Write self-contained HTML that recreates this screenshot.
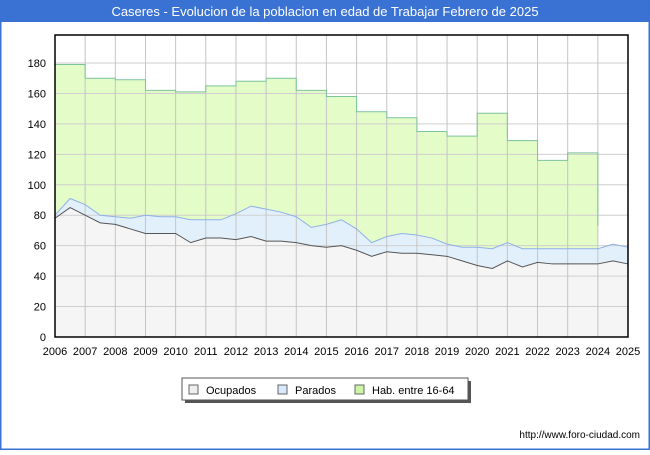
<!DOCTYPE html>
<html><head><meta charset="utf-8"><style>
body{margin:0;width:650px;height:450px;overflow:hidden;background:#fff;font-family:"Liberation Sans","DejaVu Sans",sans-serif}
</style></head><body>
<svg width="650" height="450" xmlns="http://www.w3.org/2000/svg">
<rect x="0" y="0" width="650" height="450" fill="#fff" stroke="#3a72d4" stroke-width="3"/>
<rect x="0" y="0" width="650" height="22" fill="#3a72d4"/>
<text x="325" y="16" fill="#fff" font-size="13" text-anchor="middle">Caseres - Evolucion de la poblacion en edad de Trabajar Febrero de 2025</text>
<g id="marks"></g>
<g id="grid"></g>
<g id="lines"></g>
<rect x="55" y="35" width="573" height="302" fill="none" stroke="#000" stroke-width="1.5"/>
<g id="axes"></g>
<g>
<rect x="185" y="381" width="286" height="22" fill="#555"/>
<rect x="182" y="378" width="286" height="22" fill="#fff" stroke="#555"/>
<g><rect x="189" y="385" width="9" height="9" fill="#eee" stroke="#666"/><text x="206" y="394" font-size="11">Ocupados</text></g>
<g><rect x="278" y="385" width="9" height="9" fill="#d8eafc" stroke="#666"/><text x="295" y="394" font-size="11">Parados</text></g>
<g><rect x="355" y="385" width="9" height="9" fill="#ccf5a8" stroke="#666"/><text x="372" y="394" font-size="11">Hab. entre 16-64</text></g>
</g>
<text x="640" y="438" font-size="10" text-anchor="end">http://www.foro-ciudad.com</text>
</svg>
<script>
const years=[2006,2007,2008,2009,2010,2011,2012,2013,2014,2015,2016,2017,2018,2019,2020,2021,2022,2023,2024,2025];
const yTicks=[0,20,40,60,80,100,120,140,160,180];
const habYears=[2006,2007,2008,2009,2010,2011,2012,2013,2014,2015,2016,2017,2018,2019,2020,2021,2022,2023];
const habValues=[179,170,169,162,161,165,168,170,162,158,148,144,135,132,147,129,116,121];
const habEndValue=73;
const ocupados=[78,85,80,75,74,71,68,68,68,62,65,65,64,66,63,63,62,60,59,60,57,53,56,55,55,54,53,50,47,45,50,46,49,48,48,48,48,50,48];
const totalActivos=[80,91,87,80,79,78,80,79,79,77,77,77,81,86,84,82,79,72,74,77,71,62,66,68,67,65,61,59,59,58,62,58,58,58,58,58,58,61,59];
const NS="http://www.w3.org/2000/svg";
const X=t=>55+(t-2006)*(573/19);
const Y=v=>337-v*(302/198.4);
function mk(tag,attrs,parent){const e=document.createElementNS(NS,tag);for(const k in attrs)e.setAttribute(k,attrs[k]);parent.appendChild(e);return e;}
const grid=document.getElementById('grid'),marks=document.getElementById('marks'),lines=document.getElementById('lines'),axes=document.getElementById('axes');
yTicks.forEach(v=>{const l=mk('line',{x1:55,x2:628,y1:Y(v),y2:Y(v),stroke:'#cfcfcf'},grid);

const t=mk('text',{x:46,y:Y(v)+4,'font-size':11,'text-anchor':'end'},axes);t.textContent=v;
});
years.forEach(yr=>{const l=mk('line',{x1:X(yr),x2:X(yr),y1:35,y2:337,stroke:'#c4c4c4'},grid);

const t=mk('text',{x:X(yr),y:355,'font-size':11,'text-anchor':'middle'},axes);t.textContent=yr;
});
let hp=`M${X(2006)},${Y(0)}`;
habValues.forEach((v,i)=>{const x0=X(habYears[i]),x1=X(habYears[i]+1);hp+=` L${x0},${Y(v)} L${x1},${Y(v)}`;});
let hl=hp.replace(/^M[^L]*L/,'M')+` L${X(2024)},${Y(habEndValue)}`;
hp+=` L${X(2024)},${Y(habEndValue)} L${X(2024)},${Y(0)} Z`;
const ha=mk('path',{d:hp,fill:'#e4fcc8'},marks);

const hln=mk('path',{d:hl,fill:'none',stroke:'#7cc49c','stroke-width':1},lines);

const tx=i=>X(2006+i*0.5);
const ptsT=totalActivos.map((v,i)=>`${tx(i)},${Y(v)}`).join(' L');
const ptsO=ocupados.map((v,i)=>`${tx(i)},${Y(v)}`).join(' L');
const pa=mk('path',{d:`M${tx(0)},${Y(0)} L${ptsT} L${tx(totalActivos.length-1)},${Y(0)} Z`,fill:'#e2f0fc'},marks);

const pl=mk('path',{d:`M${ptsT}`,fill:'none',stroke:'#8fb0e8','stroke-width':1},lines);

const oa=mk('path',{d:`M${tx(0)},${Y(0)} L${ptsO} L${tx(ocupados.length-1)},${Y(0)} Z`,fill:'#f5f5f5'},marks);

const ol=mk('path',{d:`M${ptsO}`,fill:'none',stroke:'#555','stroke-width':1},lines);

</script>
</body></html>
